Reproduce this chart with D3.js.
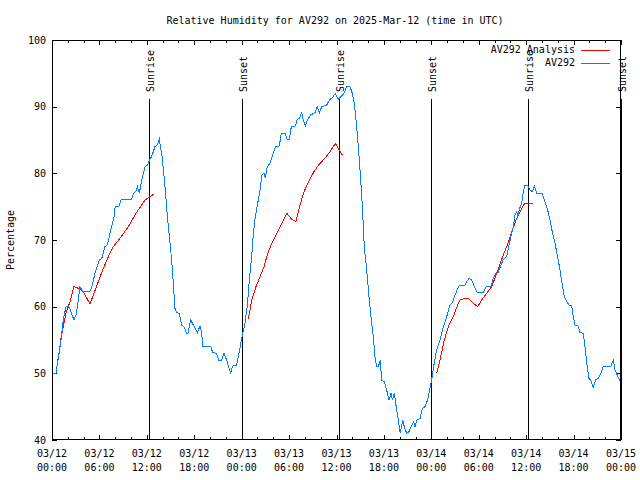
<!DOCTYPE html>
<html><head><meta charset="utf-8">
<script src="https://cdn.jsdelivr.net/npm/d3@7"></script>
<style>
html,body{margin:0;padding:0;background:#fff;}
text{font-family:"DejaVu Sans Mono",monospace;font-size:10px;fill:#000;}
</style></head>
<body><svg id="c" width="640" height="480"></svg>
<script>
// ---- data (hours since 2025-03-12 00:00 UTC) ----
const obsHours = [0,0.5,0.8,1.1,1.43,1.77,2.15,2.78,3.1,3.54,3.88,4.72,5.0,5.44,5.99,6.3,6.7,7.0,7.34,7.85,8.0,8.5,8.77,10.08,10.3,10.6,10.8,11.05,11.35,11.77,12.07,12.4,12.6,13.03,13.3,13.58,13.75,13.96,14.3,14.6,14.85,15.14,15.35,15.56,15.77,16.1,16.4,16.7,17.04,17.2,17.55,17.88,18.39,18.73,18.94,19.07,20.08,20.33,20.83,21.09,21.46,21.76,22.1,22.31,22.61,22.86,23.37,23.7,24.0,24.42,24.72,24.97,25.27,25.48,25.73,26.03,26.32,26.57,26.82,26.99,27.24,27.58,28.0,28.26,28.76,29.02,29.52,29.78,30.03,30.28,30.79,31.04,31.3,31.6,31.8,32.06,32.31,32.73,33.28,33.57,33.83,34.12,34.76,35.1,35.52,35.85,36.23,36.66,36.99,37.29,37.71,38.0,38.26,38.51,38.76,39.01,39.27,39.52,39.82,40.11,40.36,40.66,40.87,41.08,41.33,41.54,41.71,42.05,42.35,42.64,42.9,43.07,43.32,43.61,43.82,44.07,44.37,44.58,44.88,45.17,45.43,45.76,45.93,46.19,46.57,46.86,47.2,47.53,47.78,48.04,48.29,48.67,49.1,49.52,49.94,50.36,50.65,51.0,51.41,51.6,52.26,52.47,52.77,53.1,53.44,53.74,53.94,54.57,55.0,55.55,55.84,56.14,56.45,56.81,57.11,57.53,57.74,58.08,58.37,58.59,58.8,58.93,59.13,59.43,59.64,59.85,60.27,60.48,60.78,61.03,61.33,62.04,62.38,62.72,63.01,63.3,63.65,63.98,64.28,64.57,64.82,65.13,65.42,65.76,65.97,66.18,66.6,66.81,67.24,67.44,67.65,67.94,68.2,68.49,68.79,69.13,69.47,69.76,70.73,71.02,71.24,71.58,71.87];
const obsRH = [50,50,52.5,54.5,58,60,60,58,59,63,62.25,62.2,62.75,65,67,67.25,69,69.25,71,73.5,75,75.1,76.1,76.1,77,77.25,78,77,79,81,81.25,82.1,82.5,84,84.25,85.1,83.75,82.25,78,73.5,70.5,67,63.5,59.75,59.1,59,57.25,57,56,56,58,57.25,56.1,57.1,56.1,54.1,54.1,53.1,53,52,52,53,52,51.1,50.1,51.1,51.25,53.25,55.25,57.5,60.25,64,67.5,71,73.5,75.5,77.5,79.75,80,79.25,81,81.5,83,84,84.1,86,86,85,85.1,87,87.1,88.1,88.25,89.1,88,87.1,88,88.75,89.1,90,89,90,90.25,91,91.4,92,91.1,91.6,92.1,93,93,92,90.5,87.5,84,80,75,69,65.5,61.5,58.5,55.5,52.5,51,51.1,52,49,48.75,47.5,46,47,46,47,44.5,43,41,43,42,41,41.25,42,42.75,42,43,43.25,44.75,45,46,47.5,49,51,53.5,55,57,58.5,60.25,60.6,61.75,62.9,63.25,63.25,63.75,64.25,64,63,62.25,62.1,62.1,63.1,63.1,64.25,65,65.1,66.25,67.1,67.5,68.75,70.6,72,73.75,74.25,73.5,74.6,75.5,77.25,78.25,78.1,77.5,77.25,78.1,77,77,75.75,74.5,73,71.25,69.5,67.5,65.5,63.25,61.5,60.75,60.25,60.1,58.5,57.25,57.1,56.1,56,54,51.75,49.25,48.9,47.9,49,49.25,50,51.1,51.1,52,50.5,49.6,48.9];
const anaHours = [0.8,1.1,1.43,1.77,2.28,2.78,3.33,3.75,4.3,4.81,5.23,5.86,6.5,7.13,7.76,8.6,9.66,10.63,11.77,12.4,12.9,null,24.84,25.27,25.81,26.32,26.83,27.24,27.8,28.43,29.06,29.7,30.33,30.87,31.38,31.89,32.56,33.15,33.83,34.54,35.18,35.85,36.36,36.74,null,48.67,49.1,49.64,50.15,50.78,51.33,51.63,52.26,52.68,53.31,53.87,54.37,55.0,55.64,56.27,56.9,57.53,58.17,58.8,59.34,59.77,60.82];
const anaRH = [52,55,57,59,60.75,63,62.75,62.6,61.5,60.4,61.75,63.75,65.75,67.5,69,70.25,72,74,76,76.5,76.9,null,58.1,61,63,64.5,66,67.75,69.5,71,72.5,74,73.1,72.75,75.25,77.25,79,80.25,81.4,82.25,83.25,84.5,83.5,82.75,null,50,52,55,57,58.5,60.25,61,61.25,61.25,60.5,60,61,62,63,65,67.1,69,71.25,73.25,74.5,75.4,75.5];
const sunEvents = ["Sunrise","Sunset","Sunrise","Sunset","Sunrise","Sunset"];
const sunHours = [12.3,23.98,36.35,48.0,60.28,72.0];
const yTicks = [40,50,60,70,80,90,100];
const seriesNames = ["AV292 Analysis","AV292"];
const seriesColors = ["#ff0000","#0080ff"];
const titleText = "Relative Humidity for AV292 on 2025-Mar-12 (time in UTC)";
const yLabel = "Percentage";

// ---- layout ----
const base = Date.UTC(2025,2,12,0,0);
const H = 3600*1000;
const toDate = h => new Date(base + h*H);
const L=52, R=621, T=40, B=440;
const svg = d3.select("#c");
const x = d3.scaleUtc().domain([toDate(0), toDate(72)]).range([L,R]);
const y = d3.scaleLinear().domain([40,100]).range([B,T]);

svg.append("text").attr("x",335).attr("y",23.5).attr("text-anchor","middle").text(titleText);
svg.append("text").attr("transform","translate(14,240) rotate(-90)").attr("text-anchor","middle").text(yLabel);

const majors = d3.range(0,73,6).map(toDate);
const minors = d3.range(0,73,2).filter(h=>h%6!==0).map(toDate);
const fmt1 = d3.utcFormat("%m/%d"), fmt2 = d3.utcFormat("%H:%M");

function tickAxis(gen, tr, size, vals){
  const g = svg.append("g").attr("transform",tr)
    .call(gen.tickValues(vals).tickSizeInner(size).tickSizeOuter(0).tickFormat(""));
  g.select(".domain").remove();
  g.selectAll("line").attr("stroke","#000").attr("shape-rendering","crispEdges");
  return g;
}
tickAxis(d3.axisBottom(x), `translate(0,${B})`, -5, majors);
tickAxis(d3.axisBottom(x), `translate(0,${B})`, -3, minors);
tickAxis(d3.axisTop(x), `translate(0,${T})`, -5, majors);
tickAxis(d3.axisTop(x), `translate(0,${T})`, -3, minors);
tickAxis(d3.axisLeft(y), `translate(${L},0)`, -5, yTicks);
tickAxis(d3.axisRight(y), `translate(${R},0)`, -5, yTicks);

// x labels
const xl = svg.append("g");
majors.forEach(d=>{
  const t = xl.append("text").attr("text-anchor","middle");
  t.append("tspan").attr("x",x(d)).attr("y",456.5).text(fmt1(d));
  t.append("tspan").attr("x",x(d)).attr("y",470.5).text(fmt2(d));
});
// y labels
yTicks.forEach(v=>{
  svg.append("text").attr("x",46).attr("y",y(v)+3.5).attr("text-anchor","end").text(v);
});

// sun lines
sunHours.forEach((h,i)=>{
  const xx = Math.round(x(toDate(h)))+0.5;
  svg.append("line").attr("x1",xx).attr("x2",xx).attr("y1",B).attr("y2",99)
    .attr("stroke","#000").attr("stroke-width",1).attr("shape-rendering","crispEdges");
  svg.append("text").attr("transform",`translate(${xx+1},92) rotate(-90)`)
    .attr("dominant-baseline","central").text(sunEvents[i]);
});

// series
const lineGen = d3.line().defined(d=>d[1]!==null).x(d=>x(toDate(d[0]))).y(d=>y(d[1]));
const ana = anaHours.map((h,i)=>[h, anaRH[i]]);
const obs = obsHours.map((h,i)=>[h, obsRH[i]]);
svg.append("path").datum(ana).attr("d",lineGen).attr("fill","none").attr("stroke",seriesColors[0]).attr("stroke-width",1).attr("shape-rendering","crispEdges");
svg.append("path").datum(obs).attr("d",lineGen).attr("fill","none").attr("stroke",seriesColors[1]).attr("stroke-width",1).attr("shape-rendering","crispEdges");

// border
svg.append("rect").attr("x",L+0.5).attr("y",T+0.5).attr("width",R-L-1).attr("height",B-T-1)
  .attr("fill","none").attr("stroke","#000").attr("shape-rendering","crispEdges");

// legend
seriesNames.forEach((n,i)=>{
  const yy = 49.5 + i*13;
  svg.append("text").attr("x",575).attr("y",yy+3.5).attr("text-anchor","end").text(n);
  svg.append("line").attr("x1",581).attr("x2",610).attr("y1",Math.round(yy)+0.5).attr("y2",Math.round(yy)+0.5)
    .attr("stroke",seriesColors[i]).attr("stroke-width",1);
});
</script></body></html>
